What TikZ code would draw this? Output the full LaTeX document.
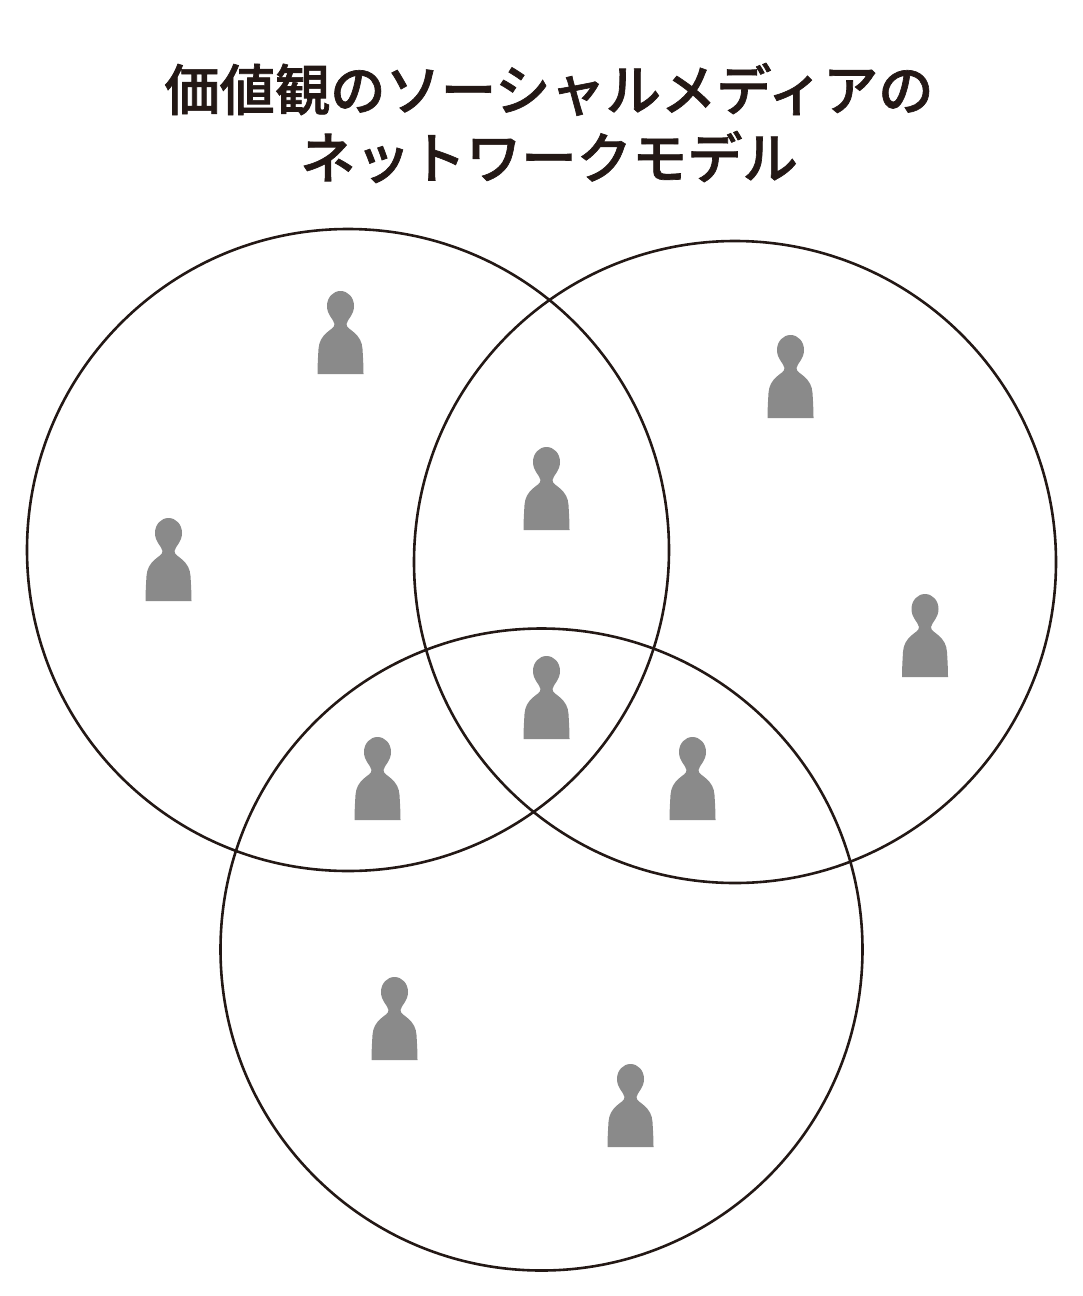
\documentclass[tikz,border=0pt]{standalone}
\usepackage{fontspec}
\newfontfamily\cjk{Noto Sans CJK JP Medium}[FakeBold=1.2]
\definecolor{ink}{HTML}{231815}
\definecolor{figgray}{HTML}{8A8A8A}
\tikzset{
  x=1pt,y=-1pt,
  ring/.style={draw=ink,line width=2.6pt,circle,minimum size=642pt,inner sep=0pt},
  person/.pic={
    \fill[figgray] (0,0) .. controls (7.5,0) and (13.5,6.5) .. (13.5,15)
      .. controls (13.5,24) and (7,28) .. (6,33)
      .. controls (6,37) and (10,38) .. (13,41)
      .. controls (19,46) and (21.5,51) .. (22,58)
      .. controls (22.5,66) and (23,75) .. (23,83)
      -- (-23,83)
      .. controls (-23,75) and (-22.5,66) .. (-22,58)
      .. controls (-21.5,51) and (-19,46) .. (-13,41)
      .. controls (-10,38) and (-6,37) .. (-6,33)
      .. controls (-7,28) and (-13.5,24) .. (-13.5,15)
      .. controls (-13.5,6.5) and (-7.5,0) .. (0,0) -- cycle;
  }
}
\begin{document}
\begin{tikzpicture}
\useasboundingbox (0,0) rectangle (1083,1296);
\node[inner sep=0pt,text=ink,align=center,font=\cjk\fontsize{55.3}{68}\selectfont] (title) at (549,123) {価値観のソーシャルメディアの\\ネットワークモデル};
\node[ring] (left) at (348,550) {};
\node[ring] (right) at (735,562) {};
\node[ring] (bottom) at (541.5,949.5) {};
\foreach \px/\py in {340.5/291,790.5/335,546.5/447,168.5/518,925/594,546.5/656,377.5/737,692.5/737,394.5/977,630.5/1064}
  \pic at (\px,\py) {person};
\end{tikzpicture}
\end{document}
